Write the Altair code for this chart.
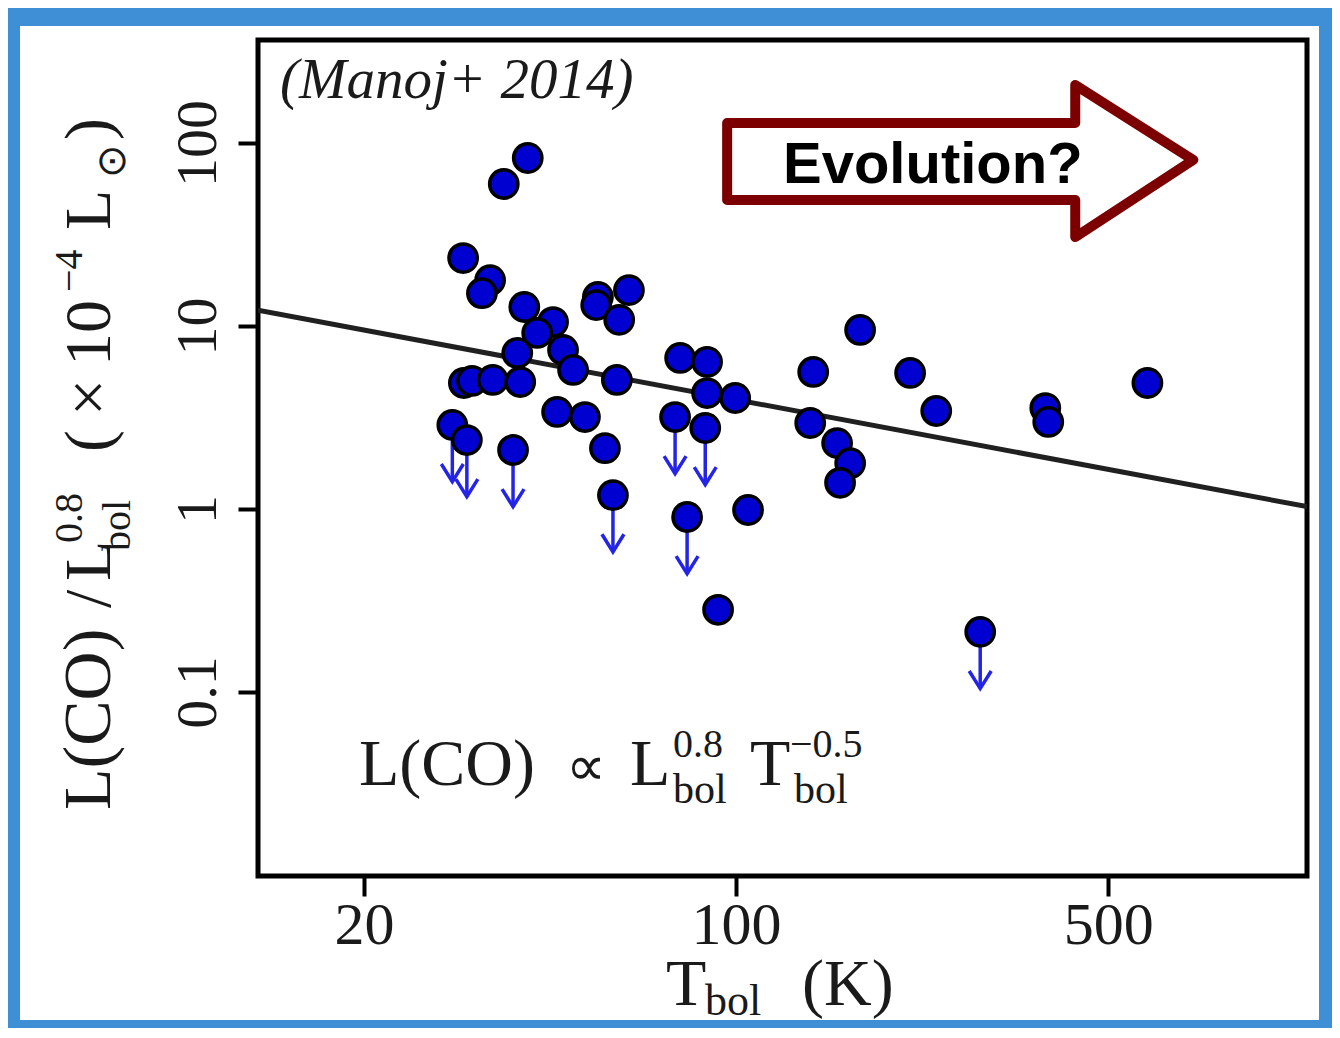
import altair as alt
import pandas as pd

# ---- data ----
# detections: T_bol (K), L(CO)/L_bol^0.8 (x1e-4 Lsun)
tbol_det = [40.6, 36.6, 30.7, 34.5, 33.3, 40.0, 45.3, 42.3, 55.0, 54.6, 62.9, 60.3,
            38.8, 47.3, 49.4, 30.8, 31.9, 34.9, 39.3, 59.7, 46.1, 52.0, 56.7, 78.5,
            88.2, 88.2, 99.6, 105.3, 92.5, 139.6, 137.8, 171.0, 154.8, 163.8, 156.8,
            212.3, 237.7, 381.0, 385.9, 592.6]
lco_det = [82.8, 59.7, 23.5, 17.8, 15.1, 12.7, 10.5, 9.16, 14.4, 13.0, 15.7, 10.8,
           7.12, 7.39, 5.75, 4.88, 5.01, 5.07, 4.94, 5.07, 3.39, 3.18, 2.15, 6.69,
           6.36, 4.30, 4.04, 0.987, 0.281, 5.61, 2.95, 9.51, 2.29, 1.78, 1.39,
           5.54, 3.43, 3.56, 2.99, 4.88]
# upper limits
tbol_ul = [29.3, 31.2, 38.1, 58.7, 76.8, 87.5, 80.9, 287.5]
lco_ul = [2.88, 2.38, 2.10, 1.19, 3.18, 2.77, 0.904, 0.213]
# fitted relation (end points)
fit_tbol = [12.64, 1182.0]
fit_lco = [12.2, 1.03]
# "Evolution?" arrow outline (data coordinates)
evo_tbol = [96.2, 433.7, 433.7, 722.8, 433.7, 433.7, 96.2, 96.2]
evo_lco = [128.6, 128.6, 207.5, 80.8, 30.6, 48.8, 48.8, 128.6]

x_ticks = [20, 100, 500]
y_ticks = [0.1, 1, 10, 100]

W, H = 1049, 836
XDOM = [12.64, 1182.0]
YDOM = [0.00987, 365.4]

SERIF = "Liberation Serif"
INK = "#1a1a1a"

det = pd.DataFrame({"T": tbol_det, "L": lco_det})
ul = pd.DataFrame({"T": tbol_ul, "L": lco_ul})
fit = pd.DataFrame({"T": fit_tbol, "L": fit_lco})
evo = pd.DataFrame({"T": evo_tbol, "L": evo_lco, "i": list(range(len(evo_tbol)))})
one = pd.DataFrame({"k": [0]})

xs = alt.Scale(type="log", domain=XDOM, nice=False)
ys = alt.Scale(type="log", domain=YDOM, nice=False)

xax = alt.Axis(values=x_ticks, format="~g", title=None, grid=False, domain=False,
               tickSize=20, tickWidth=4, tickColor="black",
               labelFont=SERIF, labelFontSize=60, labelColor=INK,
               labelBaseline="alphabetic", labelPadding=47,
               labelFlush=False, labelOverlap=False, zindex=1)
yax = alt.Axis(values=y_ticks, format="~g", title=None, grid=False, domain=False,
               tickSize=20, tickWidth=4, tickColor="black",
               labelFont=SERIF, labelFontSize=58, labelColor=INK,
               labelAngle=270, labelAlign="center", labelBaseline="alphabetic",
               labelPadding=23, labelFlush=False, labelOverlap=False, zindex=1)

X = alt.X("T:Q", scale=xs, axis=xax)
Y = alt.Y("L:Q", scale=ys, axis=yax)

border = alt.Chart(one).mark_rect(fill="transparent", stroke="#3f8fd6", strokeWidth=20).encode(
    x=alt.value(-248), x2=alt.value(1071), y=alt.value(-24), y2=alt.value(990))

fit_line = alt.Chart(fit).mark_line(color="#202020", strokeWidth=5, clip=True).encode(x=X, y=Y)

evo_arrow = alt.Chart(evo).mark_line(color="#7d0000", strokeWidth=10, strokeJoin="round",
                                     strokeCap="round").encode(x=X, y=Y, order=alt.Order("i:Q"))

ARROW_BLUE = "#2424e6"
ul_rules = alt.Chart(ul).transform_calculate(tip="datum.L * 0.49").mark_rule(
    color=ARROW_BLUE, strokeWidth=3.5).encode(x=X, y=Y, y2=alt.Y2("tip:Q"))
ul_heads = alt.Chart(ul).transform_calculate(tip="datum.L * 0.49").mark_point(
    shape="M -1 -1.6 L 0 0 L 1 -1.6", filled=False, stroke=ARROW_BLUE, strokeWidth=3.5,
    size=484, opacity=1).encode(x=X, y=alt.Y("tip:Q", scale=ys, axis=yax))

pts_det = alt.Chart(det).mark_point(shape="circle", filled=True, fill="#0000d0",
                                    stroke="black", strokeWidth=3.5, size=800,
                                    opacity=1).encode(x=X, y=Y)
pts_ul = alt.Chart(ul).mark_point(shape="circle", filled=True, fill="#0000d0",
                                  stroke="black", strokeWidth=3.5, size=800,
                                  opacity=1).encode(x=X, y=Y)


def txt(s, x, y, size, angle=0, font=SERIF, style=None, weight=None, color=INK):
    props = dict(text=s, font=font, fontSize=size, align="left",
                 baseline="alphabetic", color=color)
    if angle:
        props["angle"] = angle
    if style:
        props["fontStyle"] = style
    if weight:
        props["fontWeight"] = weight
    return alt.Chart(one).mark_text(**props).encode(x=alt.value(x), y=alt.value(y))


texts = [
    # y-axis title (rotated)
    txt("L(CO)", -148, 770, 68, angle=270),
    txt("/", -148, 568, 66, angle=270),
    txt("L", -148, 541, 66, angle=270),
    txt("0.8", -176, 503, 40, angle=270),
    txt("bol", -128, 511, 40, angle=270),
    txt("(", -148, 412, 66, angle=270),
    txt("\u00d7", -148, 376, 66, angle=270),
    txt("10", -148, 326, 66, angle=270),
    txt("\u22124", -176, 252, 40, angle=270),
    txt("L", -148, 190, 66, angle=270),
    txt("\u2299", -133, 138, 40, angle=270),
    txt(")", -148, 100, 66, angle=270),
    # x-axis title
    txt("T", 408, 965, 66),
    txt("bol", 447, 975, 44),
    txt("(K)", 544, 965, 66),
    # relation
    txt("L(CO)", 101, 745, 66),
    txt("\u221d", 308, 745, 56),
    txt("L", 372, 745, 66),
    txt("0.8", 415, 717, 40),
    txt("bol", 415, 763, 42),
    txt("T", 492, 745, 66),
    txt("\u22120.5", 532, 717, 40),
    txt("bol", 536, 763, 42),
    # reference
    txt("(Manoj+ 2014)", 22, 58, 57, style="italic"),
    # arrow label
    txt("Evolution?", 525, 143, 58, font="Liberation Sans", weight="bold", color="#000000"),
]

chart = alt.layer(border, fit_line, evo_arrow, ul_rules, ul_heads, pts_det, pts_ul, *texts).properties(
    width=W, height=H,
    autosize=alt.AutoSizeParams(type="none"),
    padding={"left": 250, "top": 32, "right": 25, "bottom": 152},
    background="white",
).configure_view(stroke="black", strokeWidth=5)

chart.save("out.html", embed_options={"renderer": "svg", "actions": False})
